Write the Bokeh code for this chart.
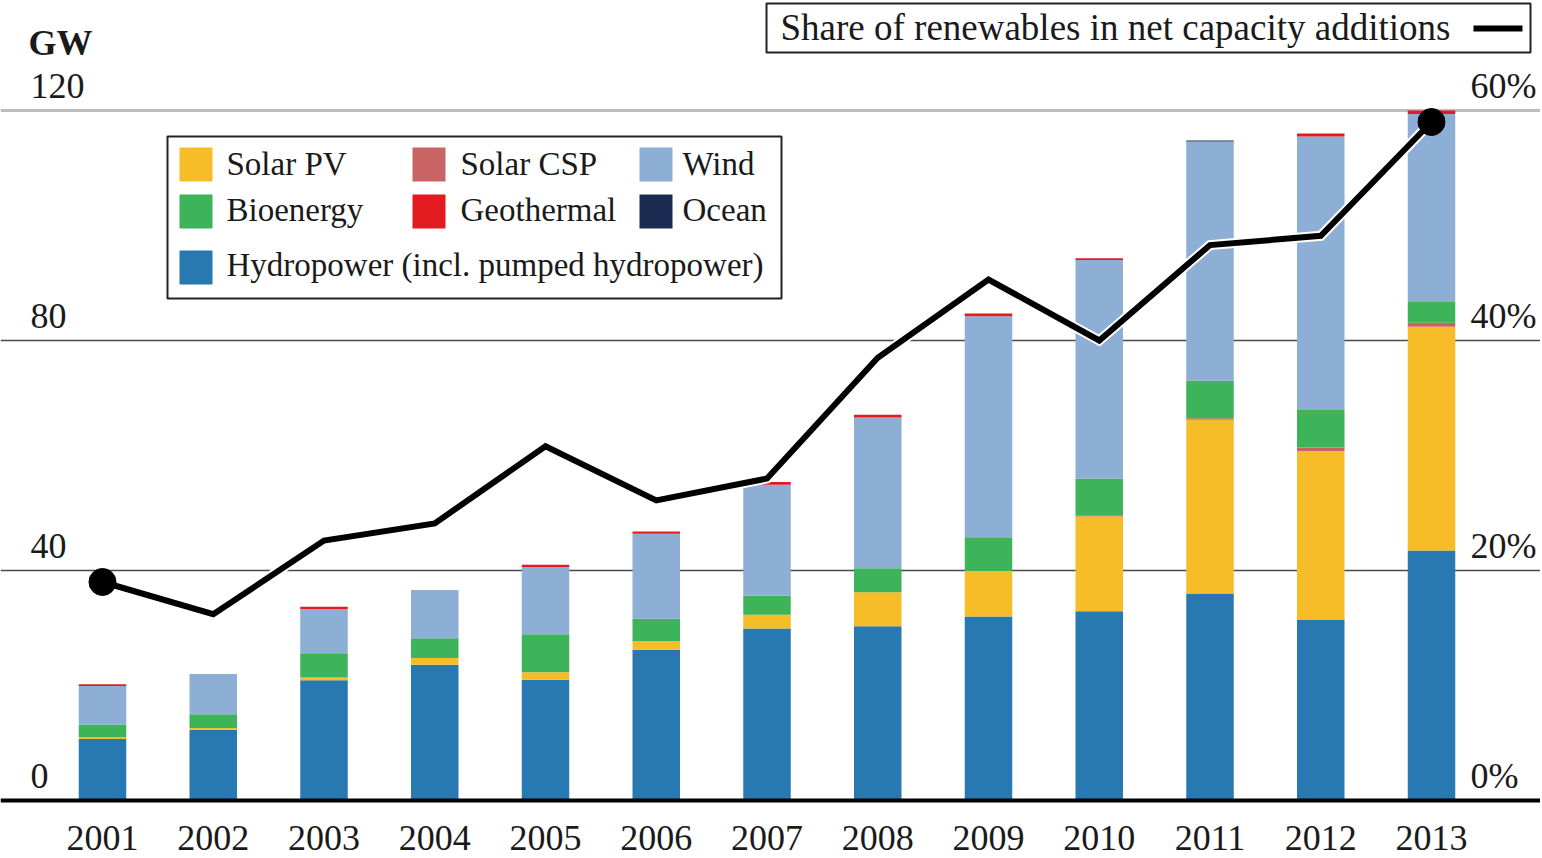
from bokeh.core.properties import value
from bokeh.embed import file_html
from bokeh.models import ColumnDataSource, Range1d
from bokeh.plotting import figure
from bokeh.resources import INLINE

# net capacity additions, GW
years = [2001, 2002, 2003, 2004, 2005, 2006, 2007, 2008, 2009, 2010, 2011, 2012, 2013]
hydro = [10.7, 12.3, 20.9, 23.6, 21.0, 26.2, 29.9, 30.3, 32.0, 32.9, 36.0, 31.4, 43.5]
solar_pv = [0.3, 0.3, 0.5, 1.2, 1.3, 1.5, 2.4, 5.9, 7.9, 16.5, 30.2, 29.4, 38.9]
solar_csp = [0, 0, 0, 0, 0, 0, 0, 0, 0, 0.2, 0.3, 0.6, 0.7]
bioenergy = [2.2, 2.4, 4.2, 3.4, 6.6, 3.9, 3.3, 4.2, 5.9, 6.4, 6.5, 6.5, 3.6]
wind = [6.7, 7.0, 7.7, 8.4, 11.7, 14.8, 19.3, 26.2, 38.4, 38.0, 41.6, 47.6, 32.7]
geothermal = [0.3, 0, 0.4, 0, 0.4, 0.4, 0.5, 0.5, 0.5, 0.3, 0, 0.5, 0.6]
ocean = [0, 0, 0, 0, 0, 0, 0, 0, 0, 0, 0.2, 0, 0]
# share of renewables in net capacity additions, %
share = [19.0, 16.2, 22.6, 24.1, 30.8, 26.1, 28.0, 38.5, 45.3, 40.0, 48.3, 49.1, 59.0]

gw_ticks = [0, 40, 80, 120]
gw_labels = ["0", "40", "80", "120"]
pct_ticks = [0, 20, 40, 60]
pct_labels = ["0%", "20%", "40%", "60%"]

FONT = value("Liberation Serif")

W, H = 1540, 856
PX_PER_GW = 5.75
BASE_CY = 800
PX_PER_YEAR = 110.75
FIRST_CX = 102
LIFT = 13  # svg text sits a bit low, pull it up

Y0 = -(H - BASE_CY) / PX_PER_GW
Y1 = BASE_CY / PX_PER_GW
X0 = years[0] - FIRST_CX / PX_PER_YEAR
X1 = X0 + W / PX_PER_YEAR


def dx(cx):
    return X0 + cx / PX_PER_YEAR


def dy(cy):
    return Y1 - cy / PX_PER_GW


p = figure(
    width=W, height=H,
    x_range=Range1d(X0, X1), y_range=Range1d(Y0, Y1),
    output_backend="svg", toolbar_location=None,
    min_border=0, outline_line_color=None,
)
p.axis.visible = False
p.grid.visible = False
p.extra_y_ranges = {"pct": Range1d(Y0 / 2, Y1 / 2)}

# grid lines
p.hspan(y=[40, 80], line_color="#4a4a4a", line_width=1.6)
p.hspan(y=[120], line_color="#bdbdbd", line_width=3)

src = ColumnDataSource(data=dict(
    year=years, hydro=hydro, solar_pv=solar_pv, solar_csp=solar_csp,
    bioenergy=bioenergy, wind=wind, geothermal=geothermal, ocean=ocean,
))
stack = ["hydro", "solar_pv", "solar_csp", "bioenergy", "wind", "geothermal", "ocean"]
colors = ["#2878b2", "#f6bd28", "#c96464", "#3db35a", "#8daed5", "#e31a20", "#1b2a50"]
p.vbar_stack(stack, x="year", width=47.5 / PX_PER_YEAR, color=colors,
             line_color=None, source=src)

p.hspan(y=[0], line_color="black", line_width=4)

# share line (right axis)
p.line(years, share, y_range_name="pct", line_color="white", line_width=10, line_join="miter")
p.line(years, share, y_range_name="pct", line_color="black", line_width=6, line_join="miter")
p.scatter([years[0], years[-1]], [share[0], share[-1]], y_range_name="pct",
          size=27, fill_color="black", line_color="black")

# tick labels
p.text([dx(30)] * len(gw_ticks), gw_ticks, text=gw_labels, text_font=FONT,
       text_font_size="36px", text_color="#1a1a1a", text_align="left",
       text_baseline="alphabetic", y_offset=-12 - LIFT)
p.text([dx(1470)] * len(pct_ticks), pct_ticks, text=pct_labels, text_font=FONT,
       text_font_size="36px", text_color="#1a1a1a", text_align="left",
       text_baseline="alphabetic", y_offset=-12 - LIFT, y_range_name="pct")
p.text(years, [0] * len(years), text=[str(y) for y in years], text_font=FONT,
       text_font_size="36px", text_color="#1a1a1a", text_align="center",
       text_baseline="alphabetic", y_offset=50 - LIFT)
p.text([dx(28)], [dy(55 - LIFT)], text=["GW"], text_font=FONT, text_font_size="36px",
       text_font_style="bold", text_color="#1a1a1a", text_baseline="alphabetic")

# legend for the stacked bars
p.quad(left=[dx(167)], right=[dx(781)], top=[dy(136)], bottom=[dy(298)],
       fill_color="white", line_color="#222222", line_width=2)
leg_names = ["Solar PV", "Solar CSP", "Wind", "Bioenergy", "Geothermal", "Ocean",
             "Hydropower (incl. pumped hydropower)"]
leg_colors = [colors[1], colors[2], colors[4], colors[3], colors[5], colors[6], colors[0]]
col_sw = [179, 412, 639]
col_tx = [226, 460, 682]
row_top = [147, 194, 250]
row_base = [175, 221, 276]
sw_l, sw_t, tx_x, tx_y = [], [], [], []
for i in range(len(leg_names)):
    r, c = divmod(i, 3)
    sw_l.append(col_sw[c])
    sw_t.append(row_top[r])
    tx_x.append(dx(col_tx[c]))
    tx_y.append(dy(row_base[r] - 12))
p.quad(left=[dx(v) for v in sw_l], right=[dx(v + 33) for v in sw_l],
       top=[dy(v) for v in sw_t], bottom=[dy(v + 34) for v in sw_t],
       fill_color=leg_colors, line_color=None)
p.text(tx_x, tx_y, text=leg_names, text_font=FONT, text_font_size="33px",
       text_color="#1a1a1a", text_baseline="alphabetic")

# legend for the share line
p.quad(left=[dx(766)], right=[dx(1530)], top=[dy(3)], bottom=[dy(52)],
       fill_color="white", line_color="#222222", line_width=2)
p.text([dx(780)], [dy(40 - LIFT)], text=["Share of renewables in net capacity additions"],
       text_font=FONT, text_font_size="37px", text_color="#1a1a1a",
       text_baseline="alphabetic")
p.segment(x0=[dx(1473)], y0=[dy(28)], x1=[dx(1522)], y1=[dy(28)],
          line_color="black", line_width=6)

open("out.html", "w").write(file_html(p, INLINE))
